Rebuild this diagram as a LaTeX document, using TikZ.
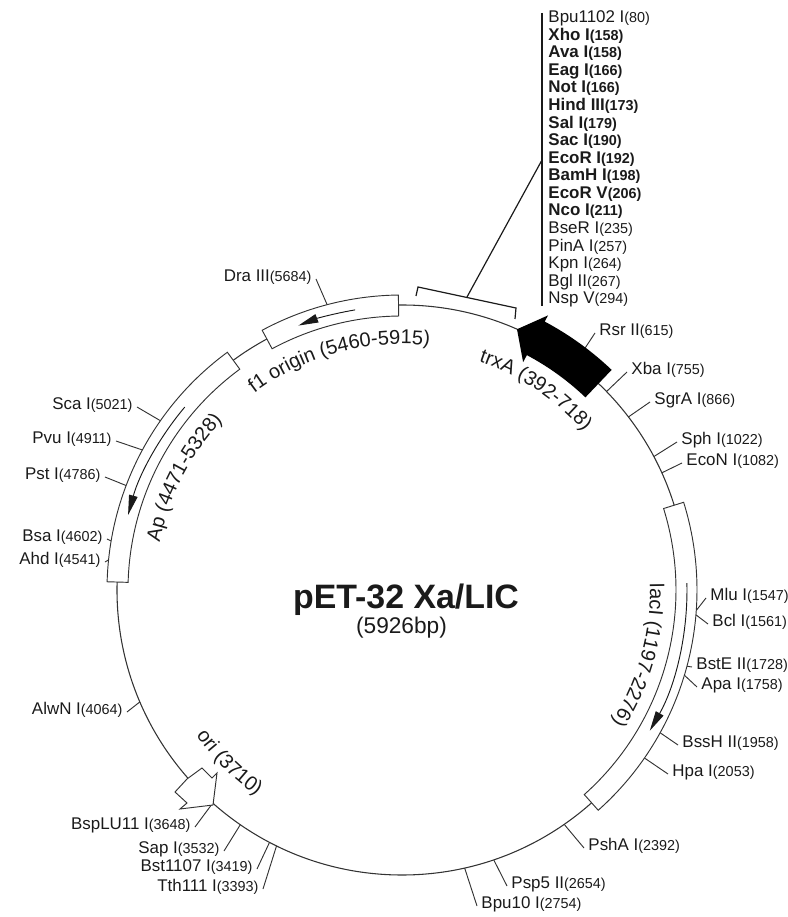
\documentclass[tikz,border=0pt]{standalone}
\usepackage{xcolor}
\usepackage{fontspec}
\setmainfont{Liberation Sans}
\usetikzlibrary{arrows.meta,decorations.text}
\definecolor{linegray}{HTML}{333333}
\definecolor{inkgray}{HTML}{1A1A1A}
\newcommand{\genefont}{\fontsize{15}{18}\selectfont}
\newcommand{\sitelbl}[2]{{\fontsize{12.7}{15}\selectfont #1}{\fontsize{10.8}{12}\selectfont(#2)}}
\begin{document}
\begin{tikzpicture}[
  x=0.75pt, y=0.75pt,
  line width=0.7pt,
  backbone/.style={draw=linegray, line width=0.8pt},
  tick/.style={draw=linegray, line width=0.7pt},
  genebox/.style={draw=linegray, line width=0.7pt, fill=white},
  genearrow/.style={draw=inkgray, line width=0.7pt, -{Stealth[length=15pt, width=6.5pt, inset=0pt]}},
  sitelabel/.style={text=inkgray, inner xsep=3pt, inner ysep=1pt},
  mcslabel/.style={text=inkgray, anchor=west, inner xsep=0pt, inner ysep=1pt},
  genelabel/.style={decorate, decoration={text along path, text align=center, text color=inkgray, text={|\genefont|#1}}}
]
  \useasboundingbox (-402,-327) rectangle (386,590);
  % plasmid backbone
  \coordinate (hub) at (0,0);
  \draw[backbone] (hub) circle (285);

  % restriction sites outside the polylinker
  \foreach \name/\num/\rad/\ex/\ey/\side [count=\i] in {
    Rsr II/615/285/193/257/west, Xba I/755/285/225/218/west,
    SgrA I/866/285/248/188/west, Sph I/1022/285/275/148/west,
    EcoN I/1082/285/280/127/west, Mlu I/1547/295/304/-8/west,
    Bcl I/1561/295/306/-34/west, BstE II/1728/295/290/-77/west,
    Apa I/1758/295/295/-97/west, BssH II/1958/295/276/-155/west,
    Hpa I/2053/295/266/-184/west, PshA I/2392/285/182/-258/west,
    Psp5 II/2654/285/105/-296/west, Bpu10 I/2754/285/75/-316/west,
    Tth111 I/3393/285/-139/-299/east, Bst1107 I/3419/285/-145/-279/east,
    Sap I/3532/285/-178/-261/east, BspLU11 I/3648/285/-207/-237/east,
    AlwN I/4064/285/-275/-122/east, Ahd I/4541/295/-297/28/east,
    Bsa I/4602/295/-295/51/east, Pst I/4786/295/-297/113/east,
    Pvu I/4911/295/-286/149/east, Sca I/5021/295/-265/183/east,
    Dra III/5684/295/-86/311/east}
  {
    \pgfmathsetmacro{\ang}{90-\num/5926*360}
    \coordinate (cut\i) at (\ang:\rad);
    \coordinate (end\i) at (\ex,\ey);
    \node[sitelabel, anchor=\side] (site\i) at ([yshift=1.5pt]end\i) {\sitelbl{\name}{\num}};
    \draw[tick] (cut\i) -- (end\i);
  }

  % gene boxes
  \draw[genebox] (178.4:274) arc[start angle=178.4, end angle=126.3, radius=274]
    -- (126.3:295) arc[start angle=126.3, end angle=178.4, radius=295] -- cycle;
  \draw[genebox] (118.3:274) arc[start angle=118.3, end angle=90.7, radius=274]
    -- (90.7:295) arc[start angle=90.7, end angle=118.3, radius=295] -- cycle;
  \draw[genebox] (17.3:274) arc[start angle=17.3, end angle=-48.3, radius=274]
    -- (-48.3:295) arc[start angle=-48.3, end angle=17.3, radius=295] -- cycle;

  % direction arrows inside the boxes
  \draw[genearrow] (139.9:284) arc[start angle=139.9, end angle=164.7, radius=284];
  \draw[genearrow] (99.5:284) arc[start angle=99.5, end angle=111.4, radius=284];
  \draw[genearrow] (1.4:285) arc[start angle=1.4, end angle=-29.6, radius=285];

  % trxA and ori
  \fill[black] (66.2:285) -- (62:311) -- (62:304) arc[start angle=62, end angle=46.4, radius=304]
    -- (46.4:266) arc[start angle=46.4, end angle=62, radius=266] -- (62:258) -- cycle;
  \draw[genebox] (-215,-189) -- (-200,-178) -- (-190,-188) -- (-185,-183) -- (-189,-215)
    -- (-222,-219) -- (-215,-213) -- (-227,-202) -- cycle;

  % gene names
  \path[genelabel={f1 origin (5460-5915)}] (135.25:246) arc[start angle=135.25, end angle=75.25, radius=246];
  \path[genelabel={Ap (4471-5328)}] (177.7:247) arc[start angle=177.7, end angle=127.7, radius=247];
  \path[genelabel={trxA (392-718)}] (81.2:241) arc[start angle=81.2, end angle=31.2, radius=241];
  \path[genelabel={lacI (1197-2276)}] (14.65:248) arc[start angle=14.65, end angle=-45.35, radius=248];
  \path[genelabel={ori (3710)}] (200:252) arc[start angle=200, end angle=250, radius=252];

  % polylinker bracket and list
  \coordinate (brkA) at (14,294);
  \coordinate (brkB) at (16,303);
  \coordinate (brkC) at (114,282);
  \coordinate (brkD) at (113,271);
  \coordinate (brkMid) at (65,293);
  \coordinate (listTop) at (140,577);
  \coordinate (listBot) at (140,284);
  \coordinate (listMid) at (140,430);
  \draw[draw=inkgray, line width=0.9pt] (brkA) -- (brkB) -- (brkC) -- (brkD);
  \draw[draw=inkgray, line width=0.9pt] (brkMid) -- (listMid);
  \draw[draw=inkgray, line width=0.9pt] (listTop) -- (listBot);
  \foreach \name/\num/\wt [count=\i from 0] in {
    Bpu1102 I/80/\mdseries, Xho I/158/\bfseries, Ava I/158/\bfseries,
    Eag I/166/\bfseries, Not I/166/\bfseries, Hind III/173/\bfseries,
    Sal I/179/\bfseries, Sac I/190/\bfseries, EcoR I/192/\bfseries,
    BamH I/198/\bfseries, EcoR V/206/\bfseries, Nco I/211/\bfseries,
    BseR I/235/\mdseries, PinA I/257/\mdseries, Kpn I/264/\mdseries,
    Bgl II/267/\mdseries, Nsp V/294/\mdseries}
  {
    \node[mcslabel] (mcs\i) at (146,571.7-17.56*\i) {\wt\sitelbl{\name}{\num}};
  }

  % plasmid name
  \node[text=inkgray, inner sep=0pt, font=\fontsize{25.4}{30}\selectfont\bfseries] (title) at (4,-10) {pET-32 Xa/LIC};
  \node[text=inkgray, inner sep=0pt, font=\fontsize{17}{20}\selectfont] (size) at (-0.5,-38) {(5926bp)};
\end{tikzpicture}
\end{document}
